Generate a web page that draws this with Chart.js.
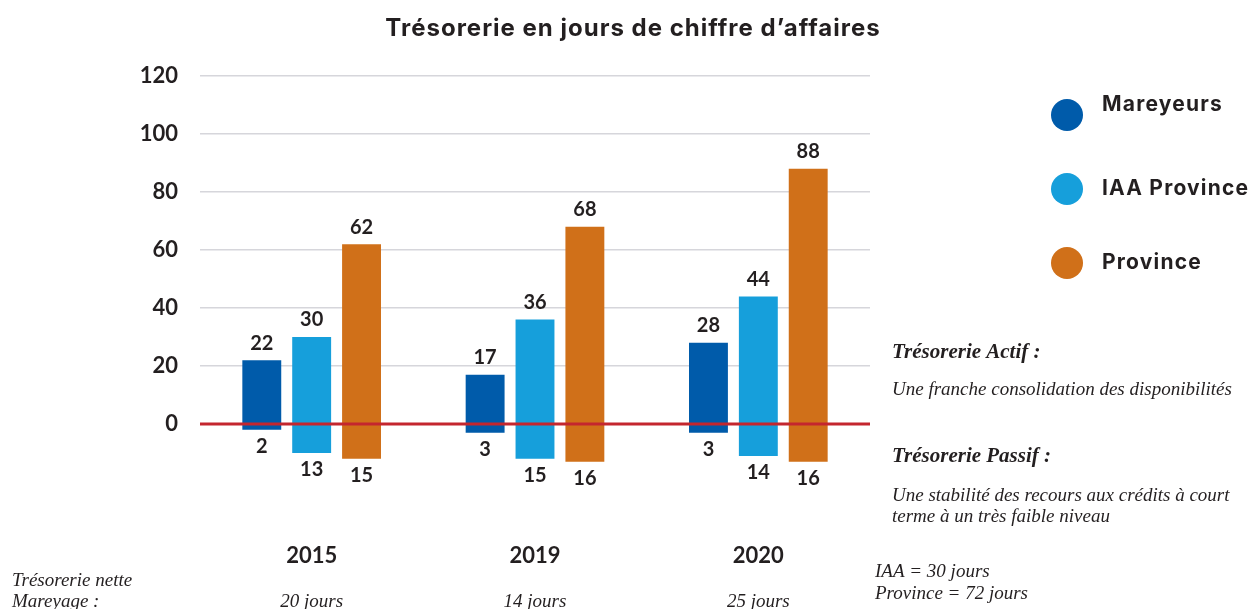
<!DOCTYPE html>
<html lang="fr">
<head>
<meta charset="utf-8">
<title>Trésorerie en jours de chiffre d'affaires</title>
<script src="https://cdn.jsdelivr.net/npm/chart.js@4.4.1/dist/chart.umd.min.js"></script>
<style>
  html, body { margin: 0; padding: 0; background: #fff; }
  #wrap { width: 1254px; height: 609px; }
</style>
</head>
<body>
<div id="wrap"><canvas id="tresoChart" width="1254" height="609"></canvas></div>
<script>
const years = ['2015', '2019', '2020'];
const seriesNames = ['Mareyeurs', 'IAA Province', 'Province'];
const seriesColors = ['#005BAA', '#169FDB', '#D07019'];

// Trésorerie actif (above zero)
const actifMareyeurs = [22, 17, 28];
const actifIaa = [30, 36, 44];
const actifProvince = [62, 68, 88];

// Trésorerie passif: bar lengths as drawn, and the numbers printed under them
const passifMareyeurs = [-2, -3, -3];
const passifIaa = [-10, -12, -11];
const passifProvince = [-12, -13, -13];
const passifLabelsMareyeurs = [2, 3, 3];
const passifLabelsIaa = [13, 15, 14];
const passifLabelsProvince = [15, 16, 16];

const netteMareyage = [20, 14, 25];
const yMin = -40, yMax = 120, yStep = 20;

const TEXT = '#231F20';
const SANS = 'Lato, "Open Sans", sans-serif';
const WIDE = 'Inter, "Open Sans", sans-serif';
const SERIF = '"Liberation Serif", "DejaVu Serif", serif';

function barSet(label, data, color, stack, printed) {
    return {
        label, data, stack, printed,
        backgroundColor: color,
        borderWidth: 0,
        categoryPercentage: 0.67,
        barPercentage: 0.78
    };
}

const datasets = [
    barSet('Mareyeurs', actifMareyeurs, seriesColors[0], 's0', actifMareyeurs),
    barSet('Mareyeurs', passifMareyeurs, seriesColors[0], 's0', passifLabelsMareyeurs),
    barSet('IAA Province', actifIaa, seriesColors[1], 's1', actifIaa),
    barSet('IAA Province', passifIaa, seriesColors[1], 's1', passifLabelsIaa),
    barSet('Province', actifProvince, seriesColors[2], 's2', actifProvince),
    barSet('Province', passifProvince, seriesColors[2], 's2', passifLabelsProvince)
];

const decorPlugin = {
    id: 'decor',
    afterDatasetsDraw(chart) {
        const ctx = chart.ctx;
        const area = chart.chartArea;
        const y = chart.scales.y;
        const x = chart.scales.x;

        // zero line on top of the bars
        ctx.save();
        ctx.strokeStyle = '#C4262E';
        ctx.lineWidth = 3;
        ctx.beginPath();
        ctx.moveTo(area.left, y.getPixelForValue(0));
        ctx.lineTo(area.right, y.getPixelForValue(0));
        ctx.stroke();

        // value labels
        ctx.fillStyle = TEXT;
        ctx.font = 'bold 20px ' + SANS;
        ctx.textAlign = 'center';
        ctx.textBaseline = 'middle';
        chart.data.datasets.forEach((ds, i) => {
            chart.getDatasetMeta(i).data.forEach((bar, j) => {
                const v = ds.data[j];
                const ty = v >= 0 ? bar.y - 17 : bar.y + 17;
                ctx.fillText(String(ds.printed[j]), bar.x, ty);
            });
        });

        // title
        ctx.font = 'bold 24px ' + WIDE;
        ctx.letterSpacing = '1px';
        ctx.fillText('Trésorerie en jours de chiffre d\u2019affaires', 633, 29);

        // legend
        const legendY = [115, 189, 263];
        ctx.letterSpacing = '1.2px';
        seriesNames.forEach((name, i) => {
            ctx.fillStyle = seriesColors[i];
            ctx.beginPath();
            ctx.arc(1067, legendY[i], 16, 0, Math.PI * 2);
            ctx.fill();
            ctx.fillStyle = TEXT;
            ctx.font = 'bold 21px ' + WIDE;
            ctx.textAlign = 'left';
            ctx.fillText(name, 1102, legendY[i] - (i === 0 ? 10 : 0));
        });
        ctx.letterSpacing = '0px';

        // notes on the right
        ctx.textAlign = 'left';
        ctx.font = 'italic bold 21px ' + SERIF;
        ctx.fillText('Trésorerie Actif :', 892, 353);
        ctx.fillText('Trésorerie Passif :', 892, 457);
        ctx.font = 'italic 19px ' + SERIF;
        ctx.fillText('Une franche consolidation des disponibilités', 892, 390);
        ctx.fillText('Une stabilité des recours aux crédits à court', 892, 496);
        ctx.fillText('terme à un très faible niveau', 892, 517);
        ctx.fillText('IAA = 30 jours', 875, 572);
        ctx.fillText('Province = 72 jours', 875, 594);

        // bottom left notes
        ctx.fillText('Trésorerie nette', 12, 581);
        ctx.fillText('Mareyage :', 12, 602);
        ctx.textAlign = 'center';
        netteMareyage.forEach((d, i) => {
            ctx.fillText(d + ' jours', x.getPixelForValue(i), 602);
        });
        ctx.restore();
    }
};

new Chart(document.getElementById('tresoChart'), {
    type: 'bar',
    data: { labels: years, datasets },
    options: {
        responsive: false,
        animation: false,
        layout: { padding: { top: 76, right: 384, left: 0, bottom: 0 } },
        plugins: {
            legend: { display: false },
            title: { display: false },
            tooltip: { enabled: false }
        },
        scales: {
            x: {
                stacked: true,
                grid: { display: false, drawTicks: false },
                border: { display: false },
                ticks: {
                    color: TEXT,
                    padding: 3,
                    font: { family: SANS, size: 22, weight: 'bold' }
                },
                afterFit(scale) { scale.height = 69; }
            },
            y: {
                stacked: true,
                min: yMin,
                max: yMax,
                border: { display: false },
                grid: {
                    drawTicks: false,
                    lineWidth: 1.5,
                    color: c => (c.tick && c.tick.value > 0) ? '#D6D6DB' : 'rgba(0,0,0,0)'
                },
                ticks: {
                    stepSize: yStep,
                    padding: 22,
                    color: TEXT,
                    font: { family: SANS, size: 22, weight: 'bold' },
                    callback: v => v >= 0 ? v : ''
                },
                afterFit(scale) { scale.width = 200; }
            }
        }
    },
    plugins: [decorPlugin]
});
</script>
</body>
</html>
